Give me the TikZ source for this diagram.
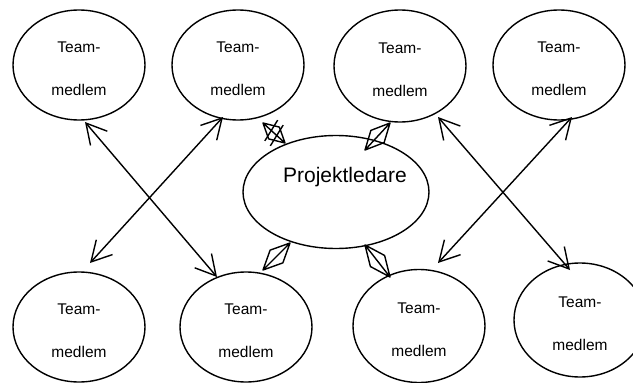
\documentclass[tikz,border=0pt]{standalone}
\usepackage{fontspec}
\setmainfont{Liberation Sans}
\usetikzlibrary{arrows.meta,calc,shapes.geometric}
\begin{document}
\begin{tikzpicture}[x=1pt,y=-1pt,line width=1.4pt,line join=round,
  mem/.style={draw,ellipse,minimum width=132pt,minimum height=110pt,inner sep=0pt},
  tm/.style={font=\fontsize{15.5}{43}\selectfont,align=center,inner sep=0pt},
  dbl/.style={{Straight Barb[length=20pt,width=22pt]}-{Straight Barb[length=20pt,width=22pt]}},
  aggr/.style={to path={(\tikztostart) -- ($(\tikztostart)!.5!(\tikztotarget)!#1!90:(\tikztotarget)$) -- (\tikztotarget) -- ($(\tikztostart)!.5!(\tikztotarget)!#1!-90:(\tikztotarget)$) -- cycle (\tikztostart) -- (\tikztotarget)}}]
\useasboundingbox (0,0) rectangle (633,383);
% team members, top row
\node[mem] (e1) at (79,65) {};
\node[mem] (e2) at (238,65) {};
\node[mem,minimum height=112pt] (e3) at (400,66) {};
\node[mem] (e4) at (559,65) {};
% bottom row
\node[mem] (e5) at (79,327) {};
\node[mem] (e6) at (246,327) {};
\node[mem,minimum height=113pt] (e7) at (419,326) {};
\node[mem,minimum height=114pt] (e8) at (580,320) {};
% project leader
\node[draw,ellipse,minimum width=186pt,minimum height=113pt,inner sep=0pt] (pl) at (336,192) {};
% texts
\foreach \n in {e1,e2,e3,e4,e5,e6,e7,e8}{
  \node[tm] (t\n) at ([yshift=-4pt]\n.center) {Team-\\medlem};
}
\node[font=\fontsize{21}{25}\selectfont,inner sep=0pt] (tpl) at ([xshift=9pt,yshift=15pt]pl.center) {Projektledare};
% crossing double arrows
\draw[dbl] ([shift={(6,57)}]e1.center) -- ([shift={(-29,-50)}]e6.center);
\draw[dbl] ([shift={(-15,52)}]e2.center) -- ([shift={(11,-64)}]e5.center);
\draw[dbl] ([shift={(38,51)}]e3.center) -- ([shift={(-10,-50)}]e8.center);
\draw[dbl] ([shift={(13,52)}]e4.center) -- ([shift={(19,-63)}]e7.center);
% aggregation diamonds
\coordinate (a1) at ([shift={(25,58)}]e2.center);
\coordinate (b1) at ([shift={(-51,-49)}]pl.center);
\coordinate (a2) at ([shift={(-10,57)}]e3.center);
\coordinate (b2) at ([shift={(29,-42)}]pl.center);
\coordinate (a3) at ([shift={(17,-57)}]e6.center);
\coordinate (b3) at ([shift={(-46,51)}]pl.center);
\coordinate (a4) at ([shift={(-29,-49)}]e7.center);
\coordinate (b4) at ([shift={(29,53)}]pl.center);
\draw (a1) to[aggr=8pt] (b1);
\draw ($(a1)!.3!(b1)!12pt!90:(b1)$) -- ($(a1)!.45!(b1)!12pt!-90:(b1)$);
\draw ($(a1)!.55!(b1)!12pt!90:(b1)$) -- ($(a1)!.7!(b1)!12pt!-90:(b1)$);
\draw (a2) to[aggr=9pt] (b2);
\draw (a3) to[aggr=9pt] (b3);
\draw (a4) to[aggr=9pt] (b4);
\end{tikzpicture}
\end{document}
